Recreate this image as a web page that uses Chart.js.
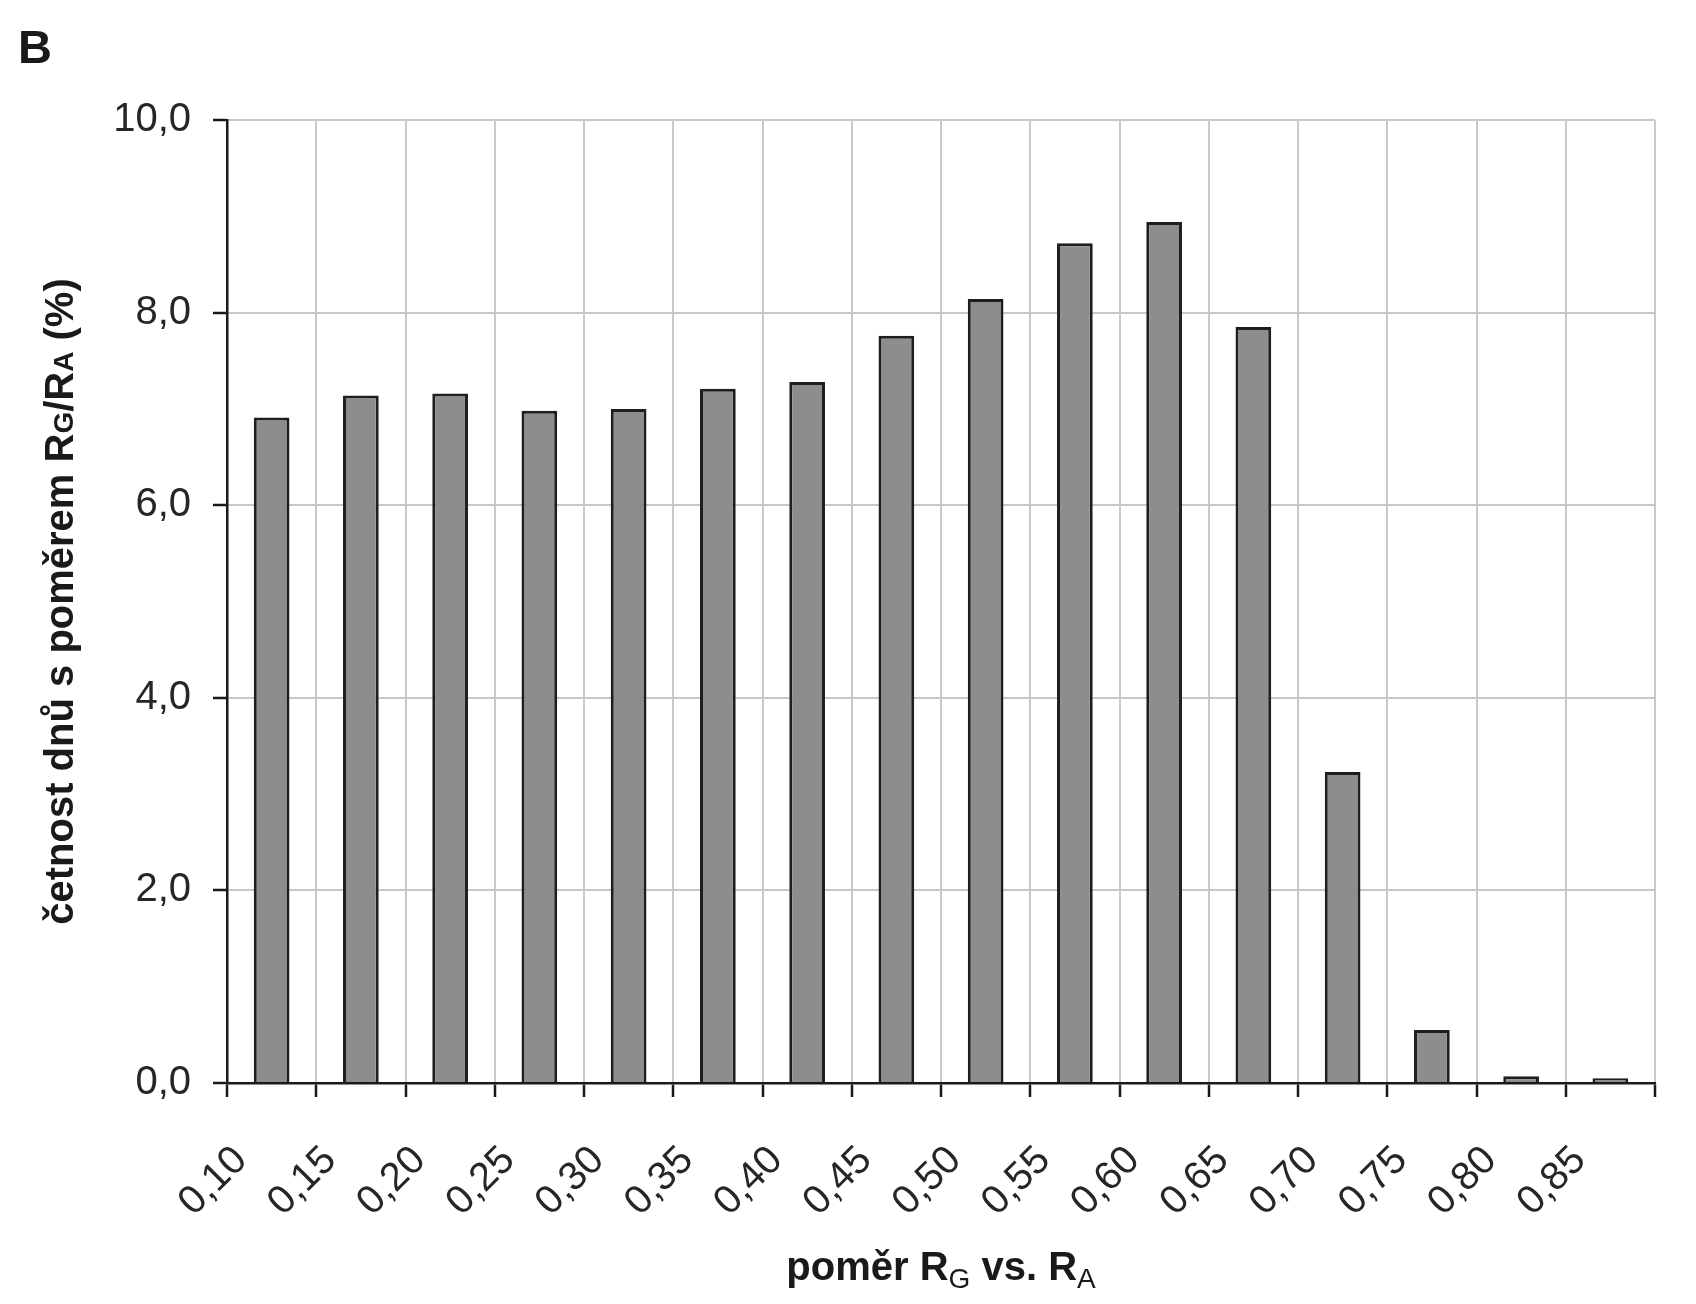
<!DOCTYPE html>
<html>
<head>
<meta charset="utf-8">
<script src="https://cdn.jsdelivr.net/npm/chart.js@4.4.1/dist/chart.umd.min.js"></script>
<style>
    body { margin: 0; background: #fff; }
</style>
</head>
<body>
<canvas id="grafB" width="1696" height="1304"></canvas>
<script>
// zacatky trid (osa x) a jejich popisky
const binStarts = [0.10, 0.15, 0.20, 0.25, 0.30, 0.35, 0.40, 0.45, 0.50, 0.55, 0.60, 0.65, 0.70, 0.75, 0.80, 0.85];
const tickLabels = ['0,10', '0,15', '0,20', '0,25', '0,30', '0,35', '0,40', '0,45', '0,50', '0,55', '0,60', '0,65', '0,70', '0,75', '0,80', '0,85'];
const binWidth = 0.05;
// cetnost dnu (%)
const frequencies = [6.91, 7.14, 7.16, 6.98, 7.00, 7.21, 7.28, 7.76, 8.14, 8.72, 8.94, 7.85, 3.23, 0.55, 0.07, 0.05];

const pismo = "'Liberation Sans', Arial, sans-serif";
Chart.defaults.font.family = pismo;

function kresliCasti(ctx, casti, x, y) {
    let celkem = 0;
    casti.forEach(c => {
        ctx.font = c.font;
        c.w = ctx.measureText(c.text).width;
        celkem += c.w;
    });
    let cx = x - celkem / 2;
    casti.forEach(c => {
        ctx.font = c.font;
        ctx.fillText(c.text, cx, y + (c.dy || 0));
        cx += c.w;
    });
}

const popisky = {
    id: 'popisky',
    afterDraw(chart) {
        const ctx = chart.ctx;
        const area = chart.chartArea;
        const tucne = 'bold 40px ' + pismo;
        ctx.save();
        ctx.fillStyle = '#1a1a1a';
        ctx.textAlign = 'left';
        ctx.textBaseline = 'alphabetic';

        ctx.font = 'bold 47px ' + pismo;
        ctx.fillText('B', 18, 63);

        const stredX = (area.left + area.right) / 2;
        kresliCasti(ctx, [
            { text: 'poměr R', font: tucne },
            { text: 'G', font: '28px ' + pismo, dy: 8 },
            { text: ' vs. R', font: tucne },
            { text: 'A', font: '28px ' + pismo, dy: 8 }
        ], stredX, 1280);

        ctx.translate(73, (area.top + area.bottom) / 2);
        ctx.rotate(-Math.PI / 2);
        kresliCasti(ctx, [
            { text: 'četnost dnů s poměrem R', font: tucne },
            { text: 'G', font: 'bold 28px ' + pismo },
            { text: '/R', font: tucne },
            { text: 'A', font: 'bold 28px ' + pismo },
            { text: ' (%)', font: tucne }
        ], 0, 0);
        ctx.restore();
    }
};

const ctxB = document.getElementById('grafB');

new Chart(ctxB, {
    type: 'bar',
    data: {
        datasets: [{
            data: binStarts.map((zacatek, i) => ({ x: zacatek + binWidth / 2, y: frequencies[i] })),
            backgroundColor: '#8e8c8e',
            borderColor: '#1e1e1e',
            borderWidth: 3,
            borderSkipped: 'start',
            categoryPercentage: 1,
            barPercentage: 0.4
        }]
    },
    options: {
        responsive: false,
        animation: false,
        layout: {
            padding: { top: 120, right: 41, bottom: 0, left: 0 }
        },
        plugins: {
            legend: { display: false },
            tooltip: { enabled: false }
        },
        scales: {
            x: {
                type: 'linear',
                offset: false,
                min: 0.10,
                max: 0.90,
                afterFit(scale) {
                    scale.height = 221;
                    scale.paddingLeft = 0;
                    scale.paddingRight = 0;
                },
                grid: {
                    offset: false,
                    color: '#c8c8c8',
                    lineWidth: 2,
                    tickColor: '#1a1a1a',
                    tickWidth: 2.5,
                    tickLength: 14
                },
                border: { color: '#1a1a1a', width: 2.5 },
                ticks: {
                    stepSize: binWidth,
                    autoSkip: false,
                    minRotation: 45,
                    maxRotation: 45,
                    padding: 40,
                    labelOffset: 14,
                    color: '#262626',
                    font: { size: 40 },
                    callback(value) {
                        const i = Math.round((value - binStarts[0]) / binWidth);
                        return tickLabels[i] !== undefined ? tickLabels[i] : '';
                    }
                }
            },
            y: {
                min: 0,
                max: 10,
                afterFit(scale) {
                    scale.width = 227;
                    scale.paddingTop = 0;
                    scale.paddingBottom = 0;
                },
                grid: {
                    color: '#c8c8c8',
                    lineWidth: 2,
                    tickColor: '#1a1a1a',
                    tickWidth: 2.5,
                    tickLength: 14
                },
                border: { color: '#1a1a1a', width: 2.5 },
                ticks: {
                    stepSize: 2,
                    padding: 22,
                    color: '#262626',
                    font: { size: 40 },
                    callback(value) {
                        return value.toFixed(1).replace('.', ',');
                    }
                }
            }
        }
    },
    plugins: [popisky]
});
</script>
</body>
</html>
